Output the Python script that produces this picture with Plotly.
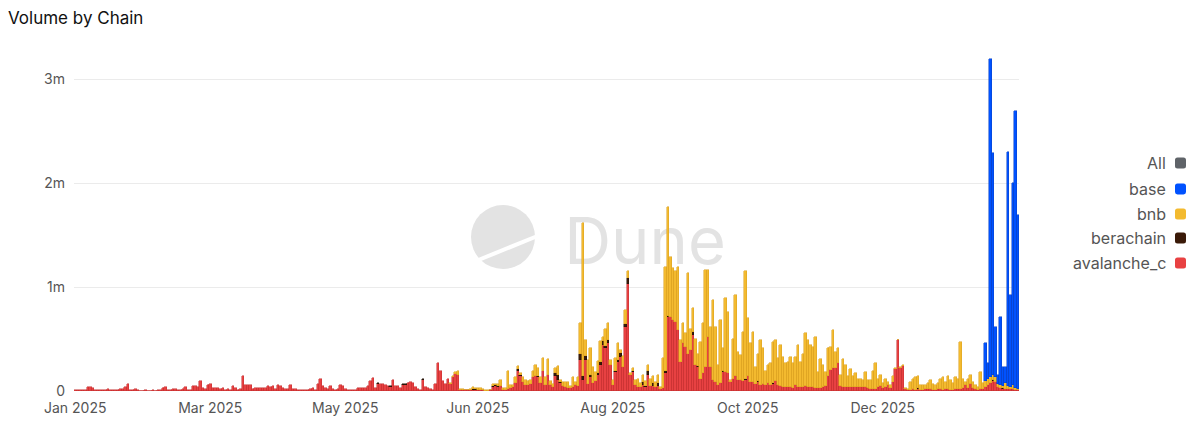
import pandas as pd
import plotly.graph_objects as go

START_DATE = "2025-01-01"

# Daily volume in thousands, one value per day starting at START_DATE
avalanche_c = [
    5, 8, 5, 10, 8, 35, 40, 25, 10, 8,
    12, 8, 10, 15, 8, 10, 12, 8, 15, 20,
    40, 65, 8, 5, 20, 5, 4, 3, 5, 4,
    3, 5, 4, 6, 10, 30, 35, 10, 8, 15,
    20, 8, 12, 20, 40, 10, 8, 45, 50, 40,
    95, 30, 20, 60, 65, 30, 25, 30, 20, 30,
    10, 20, 10, 45, 25, 12, 20, 145, 60, 55,
    60, 15, 25, 25, 25, 25, 30, 50, 40, 50,
    15, 55, 50, 25, 20, 15, 60, 20, 15, 12,
    10, 10, 12, 10, 15, 30, 10, 65, 120, 50,
    25, 20, 45, 15, 10, 20, 55, 50, 20, 10,
    8, 8, 10, 30, 30, 25, 30, 50, 100, 125,
    30, 70, 70, 65, 55, 50, 40, 105, 50, 45,
    30, 55, 60, 80, 85, 75, 40, 15, 12, 105,
    35, 25, 15, 10, 70, 270, 190, 95, 70, 115,
    70, 130, 160, 150, 8, 5, 5, 5, 8, 10,
    10, 8, 5, 5, 3, 3, 5, 40, 45, 40,
    45, 10, 10, 20, 25, 35, 80, 190, 140, 90,
    60, 55, 70, 130, 140, 130, 80, 190, 60, 150,
    60, 40, 140, 110, 80, 50, 40, 30, 30, 40,
    60, 50, 300, 105, 300, 70, 130, 80, 100, 150,
    250, 440, 410, 460, 250, 60, 185, 280, 330, 235,
    620, 1030, 150, 180, 60, 40, 35, 60, 40, 150,
    50, 50, 40, 50, 20, 30, 170, 715, 715, 680,
    665, 585, 280, 460, 425, 360, 395, 540, 250, 235,
    120, 170, 235, 520, 235, 105, 90, 60, 75, 185,
    185, 170, 90, 120, 140, 105, 105, 100, 105, 140,
    90, 90, 70, 90, 60, 70, 60, 80, 60, 70,
    100, 60, 50, 40, 40, 40, 35, 30, 60, 35,
    35, 40, 50, 40, 35, 40, 30, 30, 30, 35,
    50, 140, 200, 220, 220, 270, 50, 40, 40, 35,
    40, 35, 40, 35, 40, 35, 40, 30, 20, 20,
    20, 40, 50, 30, 40, 55, 30, 90, 210, 490,
    225, 240, 15, 10, 10, 15, 10, 20, 10, 10,
    15, 15, 15, 10, 10, 15, 15, 10, 15, 20,
    10, 10, 15, 20, 15, 30, 60, 30, 70, 30,
    15, 10, 15, 20, 40, 60, 80, 100, 90, 40,
    30, 20, 20, 20, 15, 20, 10, 10,
]

berachain_days = [
    121, 126, 131, 132, 139, 152, 158, 159, 160, 162,
    167, 168, 169, 177, 178, 185, 192, 193, 194, 202,
    203, 204, 206, 209, 210, 211, 212, 213, 216, 217,
    218, 220, 221, 223, 227, 228, 229, 231, 233, 236,
    237, 247, 249, 259, 268, 273, 279, 337, 367, 371,
]
berachain = [
    10, 8, 10, 10, 8, 5, 3, 8, 5, 5,
    10, 8, 5, 20, 15, 10, 30, 40, 10, 60,
    40, 40, 20, 20, 30, 40, 20, 30, 10, 20,
    40, 20, 60, 10, 30, 10, 40, 25, 30, 20,
    10, 30, 10, 10, 10, 10, 10, 10, 10, 5,
]

bnb_first_day = 150
bnb = [
    5, 10, 15, 45, 12, 10, 8, 5, 12, 20,
    15, 25, 20, 15, 5, 5, 8, 15, 12, 20,
    65, 15, 20, 170, 30, 25, 50, 30, 20, 40,
    50, 45, 40, 60, 115, 85, 50, 130, 70, 155,
    35, 25, 55, 90, 20, 40, 50, 60, 20, 90,
    30, 80, 290, 1475, 150, 230, 260, 155, 85, 120,
    200, 40, 170, 160, 50, 45, 120, 160, 25, 100,
    140, 65, 20, 30, 45, 80, 40, 65, 50, 60,
    70, 65, 50, 75, 20, 285, 1000, 1045, 575, 500,
    485, 605, 210, 190, 130, 780, 205, 225, 255, 115,
    355, 480, 925, 640, 385, 770, 530, 190, 605, 215,
    705, 590, 15, 385, 780, 275, 240, 470, 1035, 560,
    375, 480, 165, 260, 435, 340, 135, 170, 205, 395,
    395, 255, 390, 290, 225, 240, 295, 235, 270, 405,
    245, 320, 505, 455, 405, 385, 485, 155, 275, 215,
    135, 270, 225, 370, 160, 140, 105, 265, 210, 105,
    170, 105, 130, 85, 80, 70, 145, 80, 85, 175,
    245, 80, 105, 45, 80, 35, 30, 50, 10, 0,
    10, 10, 10, 5, 80, 105, 120, 110, 50, 50,
    45, 60, 95, 60, 50, 60, 105, 120, 75, 120,
    100, 70, 115, 100, 460, 90, 30, 90, 85, 60,
    45, 30, 170, 55, 60, 60, 50, 40, 40, 30,
    30, 25, 60, 30, 25, 40, 20, 10,
]

base_first_day = 364
base = [360, 145, 3060, 2140, 490, 85, 655, 185, 155, 2250, 885, 1940, 2660, 1670]

tick_days = [0, 54, 108, 161, 215, 269, 323]
tick_labels = ["Jan 2025", "Mar 2025", "May 2025", "Jun 2025", "Aug 2025", "Oct 2025", "Dec 2025"]
y_ticks = [0, 1_000_000, 2_000_000, 3_000_000]
y_tick_labels = ["0", "1m", "2m", "3m"]

legend_names = ["All", "base", "bnb", "berachain", "avalanche_c"]
colors = {
    "All": "#5f6368",
    "base": "#0052FF",
    "bnb": "#F3BA2F",
    "berachain": "#3A1A08",
    "avalanche_c": "#E84142",
}
edges = {
    "base": "#0a3fc4",
    "bnb": "#d9a020",
    "berachain": "#241005",
    "avalanche_c": "#c4302f",
}

dates = pd.date_range(START_DATE, periods=len(avalanche_c), freq="D")

# the page adds an 8px body margin, so the figure is 8px smaller and
# all layout positions below are given in window pixels, then shifted
PAGE = 8
FW, FH = 1200 - PAGE, 421 - PAGE
L, R, T, B = 74 - PAGE, 181, 48 - PAGE, 30
PW, PH = FW - L - R, FH - T - B


def paper(x, y):
    return (x - PAGE - L) / PW, (FH - B - (y - PAGE)) / PH


def rounded_square(x0, y0, x1, y1, r):
    pts = [
        ("M", [(x0 + r, y0)]),
        ("L", [(x1 - r, y0)]), ("Q", [(x1, y0), (x1, y0 + r)]),
        ("L", [(x1, y1 - r)]), ("Q", [(x1, y1), (x1 - r, y1)]),
        ("L", [(x0 + r, y1)]), ("Q", [(x0, y1), (x0, y1 - r)]),
        ("L", [(x0, y0 + r)]), ("Q", [(x0, y0), (x0 + r, y0)]),
    ]
    out = []
    for cmd, coords in pts:
        out.append(cmd + " ".join("%.5f,%.5f" % paper(px, py) for px, py in coords))
    return " ".join(out) + " Z"


fig = go.Figure()


def add_series(name, days, vals):
    fig.add_trace(go.Bar(
        x=[dates[d] for d in days],
        y=[v * 1000 for v in vals],
        name=name,
        marker=dict(color=colors[name], line=dict(color=edges[name], width=0.5)),
    ))


add_series("avalanche_c", range(len(avalanche_c)), avalanche_c)
add_series("berachain", berachain_days, berachain)
add_series("bnb", range(bnb_first_day, bnb_first_day + len(bnb)), bnb)
add_series("base", range(base_first_day, base_first_day + len(base)), base)

# Dune watermark (drawn under the bars)
cx0, cy0 = paper(471, 205)
cx1, cy1 = paper(535, 269)
sx0, sy0 = paper(476, 261)
sx1, sy1 = paper(540, 235)
tx0, ty0 = paper(562, 205)
tx1, ty1 = paper(728, 272)
shapes = [
    dict(type="circle", xref="paper", yref="paper", x0=cx0, y0=cy1, x1=cx1, y1=cy0,
         fillcolor="#e3e3e3", line=dict(width=0), layer="below"),
    dict(type="line", xref="paper", yref="paper", x0=sx0, y0=sy0, x1=sx1, y1=sy1,
         line=dict(color="white", width=4), layer="below"),
    dict(type="rect", xref="paper", yref="paper", x0=tx0, y0=ty1, x1=tx1, y1=ty0,
         line=dict(width=0), fillcolor="rgba(0,0,0,0)", layer="below",
         label=dict(text="Dune", textposition="middle center",
                    font=dict(family="Inter", size=65, color="#e3e3e3"))),
]

# manual legend on the right: text then a small rounded square
annotations = []
row_y = [163, 189, 214, 238, 263]
for name, ry in zip(legend_names, row_y):
    ax, ay = paper(1168, ry)
    annotations.append(dict(
        x=ax, y=ay, xref="paper", yref="paper", text=name, showarrow=False,
        xanchor="right", yanchor="middle",
        font=dict(family="Inter", size=16, color="#555555"),
    ))
    shapes.append(dict(type="path", xref="paper", yref="paper",
                       path=rounded_square(1175, ry - 5.5, 1186, ry + 5.5, 2.5),
                       fillcolor=colors[name], line=dict(width=0)))

fig.update_layout(
    barmode="stack",
    bargap=0,
    width=FW,
    height=FH,
    margin=dict(l=L, r=R, t=T, b=B, autoexpand=False),
    paper_bgcolor="white",
    plot_bgcolor="white",
    showlegend=False,
    font=dict(family="Inter", color="#555555"),
    title=dict(text="Volume by Chain", x=0, xref="container", xanchor="left",
               y=1 - (18 - PAGE) / FH, yref="container", yanchor="middle",
               pad=dict(l=0, r=0, t=0, b=0),
               font=dict(family="Inter", size=17, color="#111111")),
    shapes=shapes,
    annotations=annotations,
)

fig.update_xaxes(
    type="date",
    range=[dates[0] - pd.Timedelta(hours=12), dates[-1] + pd.Timedelta(hours=12)],
    tickvals=[dates[d] for d in tick_days],
    ticktext=tick_labels,
    showgrid=False,
    showline=False,
    zeroline=False,
    ticks="",
    automargin=False,
    tickfont=dict(family="Inter", size=14, color="#555555"),
    ticklabelstandoff=7,
)
fig.update_yaxes(
    range=[0, 3_300_000],
    tickvals=y_ticks,
    ticktext=y_tick_labels,
    showgrid=True,
    gridcolor="#ebebeb",
    gridwidth=1,
    zeroline=False,
    showline=False,
    ticks="",
    automargin=False,
    tickfont=dict(family="Inter", size=14, color="#555555"),
    ticklabelstandoff=8,
)

fig.write_html("out.html")
